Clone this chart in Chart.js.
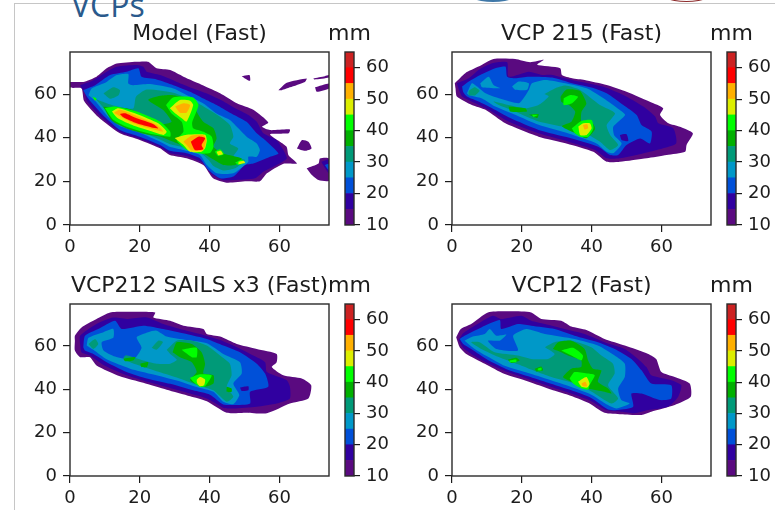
<!DOCTYPE html>
<html>
<head>
<meta charset="utf-8">
<title>VCPs</title>
<script src="https://cdn.jsdelivr.net/npm/chart.js@4"></script>
<style>
  html, body { margin: 0; padding: 0; background: #fff; overflow: hidden; }
  #page { position: relative; width: 775px; height: 510px; overflow: hidden; }
  canvas { position: absolute; filter: blur(0.35px); }
  .rule { position: absolute; background: #c6c6c6; }
  .oval { position: absolute; top: -26px; height: 28px; border-radius: 50%; box-sizing: border-box; }
  #heading { position: absolute; left: 71px; top: -17px; font: 32px "Open Sans", sans-serif; color: #2a5a8c; }
</style>
</head>
<body>
<div id="page">
  <div class="rule" style="left:14px;top:3px;width:761px;height:1px"></div>
  <div class="rule" style="left:14px;top:3px;width:1px;height:507px"></div>
  <div class="oval" style="left:462px;width:62px;background:#3f78a8"></div>
  <div class="oval" style="left:655px;width:63px;border:1px solid #8c2a2a"></div>
  <div id="heading">VCPs</div>
</div>
<script>
// Contour levels (mm) and the colour of the band that starts at each level
const levels = [10, 15, 20, 25, 30, 35, 40, 45, 50, 55, 60, 65];
const bandColors = ['#5a0a80', '#3000a0', '#0050d8', '#0098c8', '#009a78', '#00b000',
                    '#00ff00', '#dcee00', '#ffb000', '#ff0000', '#cc2222'];

// Tick labels
const xTicks = [0, 20, 40, 60];
const yTicks = [0, 20, 40, 60];
const barTicks = [10, 20, 30, 40, 50, 60];

// Contours: [level, outline of [x, y] points], painted in this order
const modelFast = [
  [10, [[0,65.6],[3.8,65.6],[7.6,68],[10.5,71.8],[13.4,74],[19,74.8],[22.4,74.8],[24.8,71.8],[28.7,71],[32.5,68],[38.2,64],[43,60.4],[47.8,55.8],[52.5,52.8],[56.8,47],[55,45],[57.3,43.5],[63,43.8],[62.6,42],[57.3,41.5],[62,36],[62.6,32],[65,28.2],[61,28],[56.4,23.7],[54.4,20],[50.6,20],[44.9,19.4],[41,21.4],[38.2,27.5],[33.4,30.6],[28.6,32.1],[25.8,35.2],[20,39],[14.3,42],[8.1,49.5],[4,57],[3.3,62.6],[0,63]]],
  [10, [[49.2,68.2],[51.4,68.7],[51.6,66.1],[50.1,67.2]]],
  [10, [[59.7,61.8],[62.1,65.2],[67.8,67.2],[67.3,65.6],[63,63.1],[60.7,61.8]]],
  [10, [[69.7,67.2],[73,68.2],[74.2,68.7],[74.2,67.6],[70.1,66.7]]],
  [10, [[70.2,63.1],[74.2,64.9],[74.2,62.6],[70.7,61.1]]],
  [10, [[65,35.1],[66.4,38.9],[68.3,38.2],[69.2,35.1],[67.3,34]]],
  [10, [[67.8,26],[71.2,28.2],[71.6,30.5],[74.2,30.5],[74.2,20.3],[71.2,20.6],[69.3,22.9]]],
  [15, [[72,29],[74.2,30],[74.2,23.7],[73.1,26]]],
  [15, [[2.9,64.1],[6.7,66.4],[10.5,70.2],[13.4,72.5],[19.1,73.3],[21,72.5],[22,70.2],[25.8,68.7],[30.6,65.6],[35.3,62.6],[39.2,60.3],[43,57.5],[46.8,54],[51.1,50.4],[53.5,47.3],[55.4,42],[59.2,38.9],[61.1,34.4],[62.1,30.5],[59.2,27.5],[55.4,24.4],[53,21.4],[46.8,20.6],[43.9,20.6],[40.5,23.5],[38,28.5],[33.4,31.6],[28.6,33],[25.8,35.8],[20,39.5],[14.3,42.7],[9,49.5],[4.8,57],[4.3,60.3]]],
  [20, [[3.8,61.8],[7.2,64.1],[11.5,68.7],[16.2,70.2],[19.6,71.8],[20.5,67.9],[24.8,66.7],[29.6,64.1],[34.4,61.1],[38.2,58],[42,55],[45.8,51.5],[50.6,47.3],[53.5,42],[56.4,38.2],[59.7,32.8],[57.3,31.3],[52.5,28.2],[50.1,27.5],[46.8,22.2],[43,21.4],[39.6,25.3],[37.2,30.6],[33.4,32.9],[28.6,34],[25.8,36.7],[20,40.5],[14.3,43.6],[10,49.5],[5.7,57],[4.6,59.5]]],
  [20, [[73,27.5],[74.2,28],[74.2,25]]],
  [25, [[5.3,59.5],[6.2,62.6],[10.5,65.6],[13.4,68.7],[16.7,69.2],[16.7,64.9],[18.1,64.1],[22.9,64.6],[29.6,62.6],[34.4,58.8],[38.2,55.7],[42,51.1],[45.8,48.1],[47.8,45],[50.6,40.5],[53.5,37.4],[54.4,34.4],[53.5,31.3],[51.1,31.3],[51.1,29],[50.1,27.5],[46.8,23.7],[42,23.7],[39.2,27.5],[37.2,32.1],[32.5,34.4],[28.6,35.9],[25.8,38.2],[20,42.3],[14.3,45.4],[11,49.5],[7.2,57]]],
  [30, [[6.2,58.8],[8.6,56.9],[12.4,54.8],[18.1,53.4],[18.9,58.8],[22,62.1],[29.6,60.6],[35.3,56.9],[39.2,53.4],[43,49.6],[45.8,45.8],[46.8,40.5],[45.8,37.4],[48.2,35.1],[46.8,31.3],[50.1,29.8],[47.3,26],[43.9,25],[41.1,27],[39.6,30],[37,33.5],[32,35.8],[28.7,37],[25.8,39.2],[20,43],[14.3,46.7],[12,49.5],[7.6,57.3]]],
  [30, [[9.6,60.3],[12.4,63.1],[14.3,61.8],[13.9,59.5],[11.5,57.9]]],
  [35, [[9.5,54.2],[16.2,53.5],[21,50.5],[26.7,46.3],[29.1,47.3],[26.7,52.7],[22.4,57.3],[25.8,59.2],[29.6,59.5],[35.3,56.8],[36.3,51.9],[38.2,47.3],[41.1,44.3],[42,39.7],[41.1,35.9],[43.9,32.8],[49.2,30.5],[47.3,27.5],[43.9,27.5],[41.1,30],[38.2,32.8],[34.4,34.8],[30.6,37.5],[26,40.5],[22,41.5],[16,44.4],[12,47.8]]],
  [40, [[10,53.5],[12.9,54.3],[19.1,52],[25.8,47.4],[28.7,42.8],[28.7,40.5],[22.4,42],[16.2,45],[12.4,48.2]]],
  [40, [[27.5,55],[29.5,58.5],[35.3,58.5],[36.8,55],[35,47],[35.3,44.3],[38.2,42.7],[40.6,40.5],[41.1,35.9],[40.1,33],[37.2,32.8],[33.4,34.5],[30.6,38.9],[32.5,42.7],[32,47.3],[29.1,51.1]]],
  [40, [[41.5,33.6],[43,34.7],[44.1,32.5],[42.5,31.6]]],
  [40, [[47.3,28.6],[49.2,29.9],[50.1,28.5],[48.2,27.5]]],
  [40, [[6.5,58.8],[7.6,58],[7.2,56.9]]],
  [45, [[12,52],[13.8,53.5],[19.1,50.9],[25.3,46.6],[27.7,42.8],[26.7,41.3],[22.4,43.4],[17.2,46.2],[13.6,49]]],
  [45, [[28.6,53.5],[31.5,57.3],[34.4,57],[35.3,55],[33.4,47.4],[32,48.9],[30.1,51.2]]],
  [45, [[30,39.9],[33.4,41.4],[38.7,41.4],[39.2,38.9],[38.7,35.2],[37.7,33.6],[34.4,33.6],[32.5,36.7]]],
  [45, [[42,33.6],[43.2,34],[43.8,32.4],[42.5,32]]],
  [45, [[48.3,29],[49.7,29.5],[50.2,28.5],[48.3,27.9]]],
  [50, [[12.6,51.5],[14.3,52.8],[19.1,50],[24.8,45.9],[26.7,42.8],[22.9,44.2],[18.1,46.6],[14.6,49.6]]],
  [50, [[30.1,54.3],[32.5,55.8],[34.4,55],[33.4,51.5],[31.5,51.5]]],
  [50, [[32.5,38.2],[34.9,41],[38.2,41.3],[39,39],[38.2,34.4],[34.9,34.1],[33.4,36.7]]],
  [55, [[14.3,50.9],[15.8,51.2],[19.1,48.9],[23.9,46.2],[25.3,44.3],[23.4,44.7],[19.1,46.6],[15.3,49.4]]],
  [55, [[34.6,38.2],[36.8,40.5],[38.7,39.8],[37.7,36.7],[38.2,34.7],[35.8,34.4]]]
];

const vcp215Fast = [
  [10, [[0.8,65],[3.8,69.6],[7.6,72.6],[11.9,76.1],[18.1,76.1],[22.4,74.6],[26.3,75.7],[24.4,73.4],[31,71.9],[31.5,68.8],[34.4,67.3],[38,66.5],[44.3,64.2],[50,61.1],[57.7,55.8],[60.5,53.5],[59.6,50.4],[62,46.6],[65.3,45],[69,42],[67.2,36.7],[66.8,33.6],[61.5,32.1],[55.8,30.6],[48.1,29],[44.3,29],[40.5,33.6],[33,37.3],[24.8,40.5],[15.3,46.6],[9.6,52.8],[5.7,55],[1.4,58.9],[1,62.7]]],
  [15, [[1.4,65],[4.8,67.3],[7.6,71.1],[11.5,74.2],[15.8,74.6],[16.2,68],[22,70.3],[25.8,68.8],[28.7,68.8],[34.4,66.5],[43.4,63.4],[49.1,59.6],[54.8,54.3],[58.2,49.7],[59.1,46.6],[63.4,44.3],[64.2,37.4],[58.6,34.4],[52.9,32.1],[48.1,30.6],[44.3,30.6],[41,34.4],[33.4,38.2],[24.8,42],[16.2,47.4],[10.5,52.8],[6.7,55.8],[2.9,58.9],[2,62]]],
  [20, [[2.9,63.5],[4.8,65.8],[8.1,68.8],[12.4,71.9],[15.3,72.6],[15.8,68],[18.1,67.3],[22,68],[28.7,67.6],[34.4,65],[40.5,62.8],[44.3,60.4],[49.1,55],[52.9,50.4],[54.3,45.8],[57.2,42.8],[56.7,37.4],[53.9,39.7],[50,36.7],[47.6,32.1],[45.3,32.1],[41.9,35.9],[33.6,40],[24.8,43.6],[16.7,49],[11.5,53.5],[7.6,56.6],[4.3,58.9],[3.2,61]]],
  [15, [[48.1,41.3],[50,41.6],[50.5,38.5],[48.6,39]]],
  [25, [[4.3,60.4],[5.7,65],[7.2,63.5],[9.6,60.4],[13.4,58.1],[19.1,55.8],[20.5,58.1],[22,61.9],[22.9,65],[26.7,66.5],[32.5,65],[38.6,62.7],[43.4,58.1],[48.1,52.7],[49.6,50.4],[46.2,45],[46.5,41],[48.6,37.4],[46.2,32.9],[44.3,33.6],[41.4,37.4],[33.6,41.8],[24.8,45.9],[18.1,50.5],[12.4,54.3],[8.6,58],[4.8,59.6]]],
  [25, [[8.1,65],[10.5,68],[11.9,64.2],[13.8,62.7],[8.6,63.1]]],
  [25, [[17.2,63.5],[19.1,65.8],[22,65],[21.5,62],[18.1,62]]],
  [30, [[26.5,60],[29.6,62.7],[32.5,63.9],[36.7,61.9],[42.4,55],[46.7,51.2],[44.3,45.8],[45.3,41.3],[47.6,36.7],[45.3,34.4],[42.4,38.2],[39.1,41.3],[33.8,44.3],[24.8,47.4],[18.1,52],[13.4,55],[11.9,56.6],[16.2,55],[21,53.5],[24.8,55],[27.7,58.9]]],
  [30, [[4.8,61.5],[6.5,63.1],[7.9,61.5],[6.7,59.5],[4.8,59.5]]],
  [35, [[31.1,58.8],[32.8,62.1],[36.6,61.5],[38.5,55.7],[37.1,51.9],[37.1,47.3],[40.1,47],[41,44],[38.5,39.8],[34.7,42.5],[31.5,45.3],[34.2,47.3],[35.3,51.9],[33.7,54.8],[31.3,56.5]]],
  [35, [[16.2,54.3],[21,53.5],[21.5,52],[16.7,52]]],
  [35, [[22,50.5],[24.8,50.8],[24.4,49]]],
  [40, [[32,58.1],[33.9,59.6],[36.1,58.8],[34.4,55.8],[32,55]]],
  [40, [[34.3,44.3],[37.1,47.7],[40,48.1],[40.5,44.3],[39.1,40.5],[36.7,40.5],[35.2,42]]],
  [40, [[22.9,50.5],[24.6,50.5],[23.4,49.5]]],
  [45, [[36.2,45.1],[37.6,46.6],[39.5,46.6],[40,44.3],[38.6,41.3],[36.7,41.3]]],
  [50, [[37.5,45.8],[38.7,46.3],[39,44.3],[38,43.8]]]
];

const vcp212Fast = [
  [10, [[1.4,62.4],[1.4,64.7],[3.3,68.5],[7.6,72.4],[11.5,75.4],[17.2,75.7],[24.4,75.4],[23.9,73.1],[28.7,71.6],[32.5,69.3],[38.2,67.8],[39.2,65.5],[43,64.3],[47.8,60.9],[53.5,58.6],[59.2,56.3],[59.2,52.5],[57.8,50.2],[61.1,46.4],[66.4,44.9],[69.1,41.8],[68.3,35.7],[63,33.4],[56.4,28.9],[50.6,29.2],[44.9,29.2],[39.2,34.5],[34.4,36.8],[27.7,39.8],[21,43],[14.3,46],[7.6,51],[5.7,54.8],[2.9,54.8],[1.4,57.9]]],
  [15, [[2.9,60.9],[2.9,64.7],[7.6,70.1],[12.4,73.1],[16.7,72.4],[22,73.1],[26.7,70.1],[31.5,67.8],[37.2,65.5],[43,62.7],[47.8,59.4],[52.5,55.6],[55.9,52.5],[56.4,47.9],[62.1,44.1],[63,41.1],[63,35.7],[59.2,33.4],[53.5,31.9],[46.8,31.1],[43.9,31.5],[39.2,35.7],[34.4,38],[27.7,41],[21,44],[15.3,47],[9.6,51.2],[5.7,55.6],[3.3,57.1]]],
  [20, [[3.8,59.4],[4.3,64.7],[8.1,67.8],[12.9,71.6],[14.8,67.8],[21,69.3],[26.7,67.8],[33.4,65.5],[39.2,63.2],[43.9,60.2],[48.7,57.1],[53.5,51.8],[55.9,47.2],[56.8,41.1],[51.6,38.8],[51.6,33.4],[46.8,32.7],[43.9,33],[40.1,37.5],[35.3,39.5],[28.7,42.5],[22,45],[16.2,48],[10.5,52.5],[6.7,56.3],[4.3,57.9]]],
  [15, [[48.7,40.8],[51.1,41.4],[51.1,39.5],[49.2,39.2]]],
  [25, [[4.8,60.2],[5.3,63.7],[9.6,66.3],[12.4,67.8],[12.4,63.7],[9.1,61.7],[9.6,57.9],[12.9,55.1],[18.1,53.6],[20.5,59.1],[19.1,64],[22.4,66.3],[24.8,67],[27.7,64.3],[33.4,62.7],[39.2,61.2],[43.9,56.3],[48.7,52.5],[49.2,47.2],[46.8,42.6],[48.5,37.3],[46.8,33.1],[43.9,34.2],[41.1,38.8],[36.3,41],[30.6,44],[23.9,46.8],[17.2,49.5],[10.5,53.8],[6.7,58.2]]],
  [30, [[27.7,58.2],[30.6,62.4],[34.9,62.4],[39.2,60.2],[43,55.6],[45.8,51.8],[46.3,46.4],[44.9,41.1],[46.8,36.5],[44.9,34.2],[41.1,39.5],[36.3,42],[30.6,45.4],[24.8,48.3],[20.1,50.8],[15.3,54],[16,55.7],[21,53.3],[24.8,51.8],[28.7,51.8],[30.6,53.6],[28.7,56.3]]],
  [30, [[5.3,60.9],[7.2,63.2],[8.1,60.9],[6.7,58.6]]],
  [30, [[23.4,59.1],[25.3,62.4],[26.6,61.7],[24.8,58.2]]],
  [35, [[29.4,57.1],[30.6,61.7],[34.9,60.9],[37.7,57.1],[38.7,51.8],[38.2,47.2],[41.1,46.4],[41.1,42.6],[38.2,41],[34.4,44.1],[36.3,47.9],[34.9,52.5],[31.5,54.8]]],
  [35, [[15.3,54],[18.7,54.8],[18.1,53.3],[15.8,52.9]]],
  [35, [[20.1,51.8],[22.4,52.5],[22,50.2],[20.5,50.2]]],
  [35, [[44.9,41.1],[46.3,40.3],[46.3,38.8],[44.9,38.8]]],
  [40, [[32,58.2],[36.3,59.1],[36.3,54.8],[34.9,54.8]]],
  [40, [[34.4,45.3],[37.2,46.9],[40.6,46.4],[38.7,41.4],[37.2,41.1],[35.3,43.4]]],
  [45, [[36.3,44.4],[37.3,45.6],[38.7,44.4],[38.4,41.8],[37.2,41.4],[36.4,42.9]]]
];

const vcp12Fast = [
  [10, [[1.2,64],[2.5,67.8],[5.5,70.1],[10.3,75.4],[17,75.9],[22.7,75.4],[25.6,72.4],[31.3,71.6],[34.2,68.9],[38.5,67.3],[43.7,63.2],[49.5,60.2],[56.2,56.3],[58.5,54],[60,47.9],[63.8,45.6],[68.1,42.6],[68.4,36.5],[63.8,32.7],[57.1,29.6],[54.3,28.1],[48.5,28.5],[43.7,29.2],[39,33.8],[33.2,37.5],[28.5,39.8],[21.8,43.6],[15.1,47],[9.4,51.8],[4.1,56.3],[2.2,59.4]]],
  [15, [[1.9,62.7],[3.2,65.8],[6.5,69.3],[11.7,73.9],[14.1,72.4],[19.9,73.9],[22.7,71.6],[26.6,70.1],[32.3,67.8],[38,65.5],[43.7,61.7],[49.5,58.6],[53.3,54],[55.7,50.2],[57.1,46.4],[62.8,44.1],[65.7,41.8],[64.8,36.5],[61.9,31.9],[56.2,30.4],[52.3,28.9],[48.5,29.6],[44.2,30.4],[39.9,34.5],[34.2,38],[28.5,41],[21.8,44.7],[16,47.9],[10.3,52],[5.5,56.3],[3.2,59.1]]],
  [20, [[2.2,63.2],[3.6,64.7],[8.4,68.5],[13.7,71.9],[14.1,67.8],[18.9,70.1],[22.7,69.3],[29.4,67.8],[35.1,64.7],[41.8,61.7],[46.6,58.6],[51.4,54],[54.3,48.7],[57.1,42.6],[62.8,41.8],[62.8,35.7],[59.5,35],[54.3,38],[51.4,38],[51.9,31.9],[47.6,30.4],[44.7,30.7],[39.9,36],[34.2,39.5],[27.5,43],[21.8,46],[16,49],[10.3,53.5],[5.5,58.6],[3.2,60.9]]],
  [25, [[3.6,62.4],[6,64.3],[9.4,65.5],[10.8,67.8],[12.7,64.7],[15.6,65.2],[13.7,62.4],[10.3,62.4],[12.7,58.6],[18.9,57.9],[17.5,64.7],[21.3,67.8],[26.6,65.5],[35.1,63.2],[41.8,60.2],[46.6,55.6],[49.5,51.8],[49.5,45.6],[47.6,40.3],[48.5,35],[50.9,33.4],[47.1,31.1],[44.7,32.7],[39.9,37.5],[34.2,41],[27.5,44.6],[21.8,47.5],[15.1,50.8],[10.3,55],[6.5,58.6]]],
  [30, [[26.6,59.4],[29.4,61.7],[34.2,62.4],[39.9,59.4],[42.8,55.6],[46.1,51.8],[46.6,47.2],[44.7,41.8],[47.6,35.7],[45.7,33.4],[39.9,39],[35.1,42.6],[28.5,45.6],[23.7,48.4],[18.9,51.5],[13.2,55],[8.4,58.6],[5.5,61.7],[7.9,61.7],[12.2,57.1],[18.9,55.6],[22.7,54],[27.5,54],[29.4,56.3]]],
  [35, [[28.9,58.6],[30.4,61.7],[34.2,62.4],[38,58.6],[39,53.3],[40.4,49.5],[42.8,48.7],[41.8,43.4],[44.7,40.3],[45.7,38],[43.7,38.8],[39,40.3],[34.2,43.4],[31.8,45.6],[34.2,49.5],[37,50.2],[37,53.3],[33.2,55.6],[31.3,57.1]]],
  [35, [[16,53.6],[18.4,54.5],[19.4,53.3],[17,52.1]]],
  [35, [[23.7,49.5],[25.6,50.5],[26.1,48.7],[24.2,48.2]]],
  [40, [[31.3,57.9],[34.7,59.1],[37.5,55.6],[37.1,53.3],[34.2,55.6]]],
  [40, [[33.7,44.9],[35.1,47.9],[39,47.2],[40.9,46.4],[39.4,41.8],[39,39.8],[37.1,40.3],[34.7,42.6]]],
  [40, [[16.5,53.3],[18.4,53.7],[18.4,52.5],[16.5,52.5]]],
  [40, [[24.6,49.5],[25.6,50],[25.6,48.7],[24.6,48.7]]],
  [45, [[36.1,43.4],[38.5,45.6],[39.4,42.6],[38.8,40.8],[37.1,41.1]]],
  [50, [[37.1,42.6],[38.2,43.4],[38.7,41.4],[37.5,41.4]]]
];

const FONT = 'DejaVu Sans';
const INK = '#1c1c1c';
const page = document.getElementById('page');

// Box round the plot area, like the spines of the original figure
const frame = {
  id: 'frame',
  afterDraw(chart) {
    const a = chart.chartArea;
    chart.ctx.save();
    chart.ctx.strokeStyle = '#2a2a2a';
    chart.ctx.lineWidth = 1.4;
    chart.ctx.strokeRect(a.left, a.top, a.right - a.left, a.bottom - a.top);
    chart.ctx.restore();
  }
};

function addCanvas(left, top, width, height) {
  const c = document.createElement('canvas');
  c.width = width;
  c.height = height;
  c.style.left = left + 'px';
  c.style.top = top + 'px';
  page.appendChild(c);
  return c;
}

function tickGrid(length) {
  return { drawOnChartArea: false, drawTicks: true, tickLength: length, color: INK, lineWidth: 1.2 };
}

function tickText(padding) {
  return { color: INK, font: { family: FONT, size: 18 }, padding: padding, autoSkip: false, maxRotation: 0 };
}

// One contour panel: every outline becomes a filled closed line on the x/y scales
function drawPanel(left, top, height, title, contours) {
  const datasets = contours.map((c, i) => ({
    data: c[1].concat([c[1][0]]),
    showLine: true,
    fill: 'shape',
    backgroundColor: bandColors[levels.indexOf(c[0])],
    borderWidth: 0,
    pointRadius: 0,
    tension: 0.2,
    order: contours.length - i
  }));
  new Chart(addCanvas(left - 50, top - 32, 259 + 60, height + 32 + 38), {
    type: 'scatter',
    data: { datasets: datasets },
    plugins: [frame],
    options: {
      responsive: false,
      animation: false,
      layout: { padding: { right: 10 } },
      plugins: {
        legend: { display: false },
        tooltip: { enabled: false },
        title: {
          display: true, text: title, color: INK, fullSize: false,
          font: { family: FONT, size: 22, weight: 'normal' },
          padding: { top: 0.6, bottom: 5 }
        }
      },
      scales: {
        x: {
          min: 0, max: 74.2,
          grid: tickGrid(7), border: { display: false }, ticks: tickText(5),
          afterBuildTicks: s => { s.ticks = xTicks.map(v => ({ value: v })); },
          afterFit: s => { s.height = 38; }
        },
        y: {
          min: 0, max: 79.3,
          grid: tickGrid(7), border: { display: false }, ticks: tickText(6),
          afterBuildTicks: s => { s.ticks = yTicks.map(v => ({ value: v })); },
          afterFit: s => { s.width = 50; }
        }
      }
    }
  });
}

// Colour bar: one floating bar per band, with an empty mirror axis so "mm" centres on the bar
function drawColorbar(left, top, height) {
  const datasets = bandColors.map((color, i) => ({
    data: [[levels[i], levels[i + 1]]],
    backgroundColor: color,
    borderWidth: 0,
    grouped: false,
    barPercentage: 1,
    categoryPercentage: 1
  }));
  new Chart(addCanvas(left - 38, top - 32, 85, height + 32 + 34), {
    type: 'bar',
    data: { labels: ['mm'], datasets: datasets },
    plugins: [frame],
    options: {
      responsive: false,
      animation: false,
      layout: { padding: { bottom: 34 } },
      plugins: {
        legend: { display: false },
        tooltip: { enabled: false },
        title: {
          display: true, text: 'mm', color: INK,
          font: { family: FONT, size: 22, weight: 'normal' },
          padding: { top: 0.6, bottom: 5 }
        }
      },
      scales: {
        x: { display: false },
        y: {
          position: 'right', min: 10, max: 65,
          grid: tickGrid(6), border: { display: false }, ticks: tickText(6),
          afterBuildTicks: s => { s.ticks = barTicks.map(v => ({ value: v })); },
          afterFit: s => { s.width = 38; }
        },
        mirror: {
          position: 'left', min: 10, max: 65,
          grid: { display: false }, border: { display: false }, ticks: { display: false },
          afterFit: s => { s.width = 38; }
        }
      }
    }
  });
}

drawPanel(70, 52, 173, 'Model (Fast)', modelFast);
drawColorbar(345, 52, 173);
drawPanel(452, 52, 173, 'VCP 215 (Fast)', vcp215Fast);
drawColorbar(727, 52, 173);
drawPanel(70, 304, 172, 'VCP212 SAILS x3 (Fast)', vcp212Fast);
drawColorbar(345, 304, 172);
drawPanel(452, 304, 172, 'VCP12 (Fast)', vcp12Fast);
drawColorbar(727, 304, 172);
</script>
</body>
</html>
